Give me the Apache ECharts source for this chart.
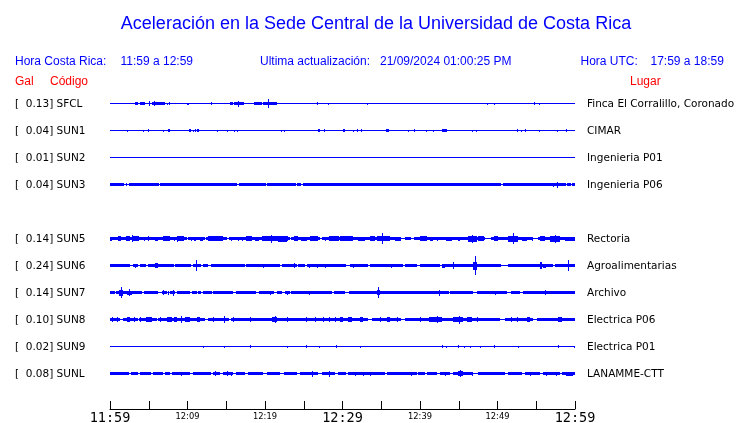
<!DOCTYPE html>
<html><head><meta charset="utf-8">
<script src="https://cdn.jsdelivr.net/npm/echarts@6/dist/echarts.min.js"></script>
<style>html,body{margin:0;padding:0;background:#fff}#c{width:740px;height:423px}</style>
</head><body><div id="c"></div>
<script>
// ---------- DATA ----------
const codes   = ['SFCL','SUN1','SUN2','SUN3','SUN5','SUN6','SUN7','SUN8','SUN9','SUNL'];
const peakGal = [0.13, 0.04, 0.01, 0.04, 0.14, 0.24, 0.14, 0.10, 0.02, 0.08];
const places  = ['Finca El Corralillo, Coronado','CIMAR','Ingenieria P01','Ingenieria P06','Rectoria',
                 'Agroalimentarias','Archivo','Electrica P06','Electrica P01','LANAMME-CTT'];
// background envelope half-amplitude of each trace (display counts)
const baseAmp = [0.5, 0.5, 0.5, 1.5, 1.5, 1.5, 1.5, 1.5, 0.5, 1.5];
// minutes after 11:59 at which x-axis labels are drawn, and their text
const tickMinutes = [0, 10, 20, 30, 40, 50, 60];
const tickLabels  = ['11:59','12:09','12:19','12:29','12:39','12:49','12:59'];
const bigTicks    = ['11:59','12:29','12:59'];

// bursts / spikes: [startMinute, endMinute, halfAmplitude]
const eventsSFCL = [[3.2,3.65,1.3],[3.9,4.5,1.3],[5.0,5.15,2.5],[5.4,7.1,1.5],[5.7,5.7,2.5],[7.3,7.3,1],[7.65,7.65,1.5],
  [9.9,9.9,1],[10.1,10.1,1],[13.0,13.0,1.5],[15.5,15.9,1.3],[16.05,17.3,1.5],[16.5,16.5,3],[18.6,19.55,1.3],
  [19.75,21.5,1.5],[20.4,20.4,4.5],[26.75,26.75,1.5],[28.1,28.1,1],[33.1,33.1,1],[48.6,48.6,1],[49.6,49.6,1],
  [54.75,54.75,1.2],[55.3,55.3,1]];
const eventsSUN1 = [[2.2,2.2,1],[4.2,4.2,1],[4.95,4.95,1.5],[6.9,6.9,1],[7.45,7.7,1.5],[10.25,10.4,1.5],[10.75,10.75,1],
  [10.95,10.95,1.3],[11.25,11.45,1.7],[13.85,13.85,1],[15.15,15.15,1],[16.05,16.05,1],[16.45,16.45,1],[22.0,22.0,1],
  [22.5,22.5,1],[26.8,27.1,1.5],[27.65,27.65,1.3],[30.1,30.3,1.5],[31.4,31.4,1],[31.9,31.9,1.5],[32.35,32.35,1.3],
  [35.6,36.05,1.5],[38.4,38.4,1],[39.25,39.25,1.3],[40.75,40.75,1],[41.7,41.7,1],[42.9,43.45,1.5],[46.65,46.65,1],
  [47.2,47.2,1],[52.55,52.55,1.3],[53.0,53.0,1],[53.6,53.6,1.3],[55.3,55.3,1],[57.65,57.65,1],[58.9,58.9,1.3]];
const eventsSUN2 = [];
const eventsSUN3 = [[57.2,57.2,2],[57.7,57.75,3]];
const eventsSUN5 = [[0,0.3,2],[1.0,1.4,2.5],[2.0,2.6,2.5],[2.8,2.8,3.5],[3.0,3.7,2.5],[4.4,4.5,2],[4.9,4.9,2.5],[5.8,6.2,2],
  [6.9,7.7,2.5],[8.2,8.2,2],[8.6,9.5,2.5],[8.7,8.7,3],[10.5,10.5,2],[10.9,11.1,2],[11.6,12.0,2],[12.7,14.6,2.5],
  [15.6,15.6,2],[16.5,16.5,2],[17.0,17.0,2],[17.6,18.3,2.5],[18.7,19.2,2],[19.6,23.0,2.5],[20.8,20.8,4],[21.7,22.8,3],
  [23.7,24.3,2.5],[24.7,25.4,2],[25.8,26.9,2.5],[27.7,27.7,2],[28.3,29.5,2.5],[29.7,31.4,2.5],[32.0,32.9,2],
  [33.5,34.2,2.5],[34.4,36.1,2.5],[35.1,35.1,5.7],[36.8,37.6,2],[40.0,40.9,2.5],[41.3,41.7,2],[42.2,42.2,2],
  [43.4,44.1,2],[44.9,45.2,2],[46.2,47.3,3],[46.7,46.7,4],[47.5,48.2,2.5],[49.5,50.1,2.5],[51.4,52.7,3],[52.0,52.0,5.5],
  [53.1,53.8,2],[54.4,54.4,2],[55.5,56.1,2.5],[56.8,58.1,3],[57.4,57.4,4],[58.7,60,2]];
const eventsSUN6 = [[3.2,3.2,2],[5.8,6.2,2.5],[11.05,11.05,5.8],[19.8,19.8,2],[23.7,23.7,2.5],[25.7,25.7,2],[26.7,26.7,2],
  [27.7,27.7,2],[31.4,31.4,2],[36.3,36.3,2],[42.8,43.2,2],[44.3,44.3,3.5],[46.9,47.3,4],[47.1,47.1,9.3],
  [55.5,55.7,3.5],[55.9,56.3,2],[59.1,59.1,5.2]];
const eventsSUN7 = [[1.1,1.7,3],[1.4,1.4,5.8],[2.2,2.8,2],[2.5,2.5,3.5],[6.9,6.9,2.5],[7.5,7.5,2],[8.1,8.1,3],[20.7,20.7,2],
  [22.8,22.8,2],[25.7,25.7,2],[34.4,34.8,2.5],[34.6,34.6,5.5],[42.5,42.5,3],[49.7,49.7,2],[56.1,56.1,2.5]];
const eventsSUN8 = [[0.2,0.2,2.5],[0.9,0.9,2.5],[2.2,2.6,2.5],[3.1,3.1,2.5],[3.9,3.9,2.5],[4.7,5.4,2.5],[6.5,6.5,2.5],
  [7.3,8.0,2.5],[8.2,8.6,2.5],[9.2,9.2,3.5],[9.7,10.3,2.5],[11.2,11.6,2.5],[13.3,13.3,2.5],[14.7,14.7,3.2],[15.9,15.9,2.5],
  [18.1,18.1,2.5],[20.9,21.5,2.5],[21.3,21.3,3.7],[22.8,22.8,2.5],[25.3,25.3,2.5],[26.5,26.5,2.5],[27.5,27.5,2.5],
  [28.2,28.2,2.5],[29.0,29.0,2.5],[29.7,30.1,2.5],[30.7,31.2,2.5],[32.3,32.7,2.5],[34.8,34.8,2.5],[35.7,36.1,2.5],
  [37.0,37.0,2.5],[40.0,40.0,2.5],[41.1,42.8,2.5],[42.2,42.2,3.3],[44.3,45.6,2.5],[45.0,45.0,4],[46.0,46.7,2.5],
  [47.3,47.3,2.5],[51.8,51.8,2.5],[52.5,52.5,2.5],[53.8,54.2,2.5],[57.8,58.3,2.5]];
const eventsSUN9 = [[12.0,12.0,1],[14.7,14.7,1],[18.1,18.1,1.5],[22.8,22.8,1],[25.3,25.3,1.5],[27.0,27.0,1],[29.2,29.2,1.5],
  [32.3,32.3,1],[42.8,42.8,1.5],[43.4,43.4,1],[44.9,44.9,1.5],[45.7,45.7,1],[46.4,46.4,1],[47.7,47.7,1],[49.5,49.5,1.5],
  [52.6,52.6,1],[57.8,57.8,1.5],[59.9,59.9,1]];
const eventsSUNL = [[9.2,9.2,2],[13.5,13.5,2.5],[15.1,15.1,2.5],[15.6,15.6,2],[26.0,26.0,3],[28.2,28.2,3],[31.6,31.6,2],
  [32.7,32.7,2],[33.5,33.5,2],[38.9,38.9,2],[43.2,43.2,2],[44.9,45.6,2.5],[45.2,45.2,3.7],[46.7,46.7,2],[54.2,54.2,2],
  [56.3,56.3,2],[57.6,57.6,2],[58.9,59.8,2]];

// quiet stretches where a band trace thins to a single line: [startMinute, endMinute]
const gapsSUN3 = [[1.85,2.0],[2.25,2.4],[6.3,6.45],[16.45,16.6],[20.1,20.25],[23.95,24.1],[24.7,24.85],[50.5,50.65],[58.8,58.95],[59.5,59.65]];
const gapsSUN5 = [[9.9,10.1],[12.2,12.45],[15.1,15.35],[23.2,23.4],[27.1,27.4],[37.6,38.0],[38.9,39.2],[48.4,49.2],[54.6,55.2]];
const gapsSUN6 = [[2.6,3.0],[3.6,3.9],[4.7,4.9],[8.2,8.4],[10.5,10.7],[11.7,12.0],[12.7,13.0],[17.4,17.6],[21.9,22.2],[24.1,24.3],
  [25.2,25.4],[30.5,31.0],[33.3,33.5],[37.8,38.1],[39.6,40.0],[42.6,42.8],[50.5,51.4],[57.2,57.4]];
const gapsSUN7 = [[0.6,0.75],[4.1,4.4],[6.2,6.7],[7.3,7.45],[7.6,7.75],[8.4,8.6],[10.3,10.6],[11.2,11.4],[11.7,12.0],[13.1,13.3],
  [15.9,16.3],[18.9,19.2],[21.1,21.5],[22.2,22.6],[23.2,23.4],[28.6,28.9],[30.3,30.8],[43.7,43.9],[46.9,47.3],[51.2,51.8],[52.9,53.3]];
const gapsSUN8 = [[1.3,1.7],[3.6,3.75],[6.0,6.2],[12.3,12.6],[15.3,15.6],[33.3,33.8],[37.6,38.1],[50.3,51.0],[54.6,55.1]];
const gapsSUNL = [[2.4,2.7],[3.65,3.9],[5.3,5.5],[6.9,7.1],[7.7,8.0],[10.3,10.75],[13.0,13.3],[14.2,14.6],[15.9,16.3],[17.4,17.8],
  [19.8,20.2],[21.9,22.4],[24.1,24.5],[26.9,27.3],[29.0,29.4],[30.5,30.7],[35.5,35.7],[39.6,39.8],[40.6,40.9],[42.2,42.6],
  [43.9,44.3],[46.9,47.5],[51.0,51.4],[53.1,53.5],[55.5,55.9],[58.1,58.3]];

const eventsByStation = [eventsSFCL,eventsSUN1,eventsSUN2,eventsSUN3,eventsSUN5,eventsSUN6,eventsSUN7,eventsSUN8,eventsSUN9,eventsSUNL];
const gapsByStation   = [[],[],[],gapsSUN3,gapsSUN5,gapsSUN6,gapsSUN7,gapsSUN8,[],gapsSUNL];

// ---------- LAYOUT / STYLE ----------
const BLUE = '#0000ff', RED = '#ff0000';
const GRID_TOP = 90, GRID_BOTTOM = 14, GRID_H = 423 - GRID_TOP - GRID_BOTTOM;
const ROW_STEP = 27, FIRST_ROW = 13.5, THIN = 0.5;
function rowOf(i){ return i < 4 ? i : i + 1; }        // one empty slot after SUN3
function centerOf(i){ return FIRST_ROW + ROW_STEP * rowOf(i); }

const segs = [];
codes.forEach((c, i) => {
  const ctr = centerOf(i);
  const gaps = gapsByStation[i].slice().sort((a,b)=>a[0]-b[0]);
  let t = 0;
  gaps.forEach(g => {
    segs.push([t, g[0], baseAmp[i], ctr]);
    segs.push([g[0], g[1], THIN, ctr]);
    t = g[1];
  });
  segs.push([t, 60, baseAmp[i], ctr]);
  eventsByStation[i].forEach(e => segs.push([e[0], e[1], e[2], ctr]));
});

const chart = echarts.init(document.getElementById('c'), null, {renderer:'canvas'});

const graphics = [];
function txt(x, y, s, font, color, align){
  graphics.push({type:'text', x:x, y:y, silent:true,
    style:{text:s, font:font, fill:color, align:align||'left', textAlign:align||'left',
           verticalAlign:'middle', textVerticalAlign:'middle'}});
}
const HDR = '12px "Liberation Sans"';
txt(376, 24, 'Aceleración en la Sede Central de la Universidad de Costa Rica', '18px "Liberation Sans"', BLUE, 'center');
txt(15, 62, 'Hora Costa Rica:', HDR, BLUE);
txt(120.5, 62, '11:59 a 12:59', HDR, BLUE);
txt(260, 62, 'Ultima actualización:', HDR, BLUE);
txt(380, 62, '21/09/2024 01:00:25 PM', HDR, BLUE);
txt(580.5, 62, 'Hora UTC:', HDR, BLUE);
txt(650.5, 62, '17:59 a 18:59', HDR, BLUE);
txt(15, 81.5, 'Gal', HDR, RED);
txt(50, 81.5, 'Código', HDR, RED);
txt(630, 81.5, 'Lugar', HDR, RED);
const LBL = '10.5px "DejaVu Sans"';
codes.forEach((c, i) => {
  const y = GRID_TOP + centerOf(i) + 0.5;
  txt(15, y, '[' + peakGal[i].toFixed(2).padStart(6, '\u00a0') + '] ' + c, LBL, '#000');
  txt(587, y, places[i], LBL, '#000');
});

chart.setOption({
  animation: false,
  backgroundColor: '#fff',
  grid: {left:110, right:165, top:GRID_TOP, bottom:GRID_BOTTOM, containLabel:false, outerBoundsMode:'none'},
  xAxis: {
    type:'value', min:0, max:60, interval:5, position:'bottom',
    axisLine:{show:true, onZero:false, lineStyle:{color:'#000', width:1}},
    axisTick:{show:true, inside:true, length:8, lineStyle:{color:'#000', width:1}},
    splitLine:{show:false},
    axisLabel:{
      show:true, margin:2.5, showMinLabel:true, showMaxLabel:true, hideOverlap:false,
      formatter: v => {
        const k = tickMinutes.indexOf(v);
        if (k < 0) return '';
        const s = tickLabels[k];
        return bigTicks.indexOf(s) >= 0 ? '{big|' + s + '}' : '{small|' + s + '}';
      },
      rich:{
        big:{fontFamily:'DejaVu Sans Mono', fontSize:13.5, lineHeight:14, color:'#000'},
        small:{fontFamily:'DejaVu Sans', fontSize:8.3, lineHeight:9, color:'#000', padding:[1,0,0,0]}
      }
    }
  },
  yAxis: {type:'value', min:0, max:GRID_H, inverse:true, show:false},
  graphic: graphics,
  series: [{
    type:'custom', clip:false, data:segs,
    encode:{x:[0,1], y:3},
    renderItem: (params, api) => {
      const t0 = api.value(0), t1 = api.value(1), a = api.value(2), c = api.value(3);
      const pA = api.coord([t0, c - a]);
      const pB = api.coord([t1, c + a]);
      let x0 = Math.round(pA[0]), x1 = Math.round(pB[0]);
      if (x1 - x0 < 1) x1 = x0 + 1;
      let y0 = Math.round(Math.min(pA[1], pB[1])), y1 = Math.round(Math.max(pA[1], pB[1]));
      if (y1 - y0 < 1) y1 = y0 + 1;
      return {type:'rect', shape:{x:x0, y:y0, width:x1-x0, height:y1-y0}, style:{fill:BLUE}};
    }
  }]
});
</script></body></html>
